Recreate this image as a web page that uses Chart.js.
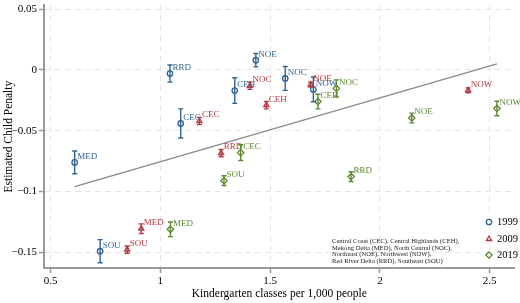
<!DOCTYPE html>
<html><head><meta charset="utf-8">
<script src="https://cdn.jsdelivr.net/npm/chart.js@4/dist/chart.umd.min.js"></script>
<style>html,body{margin:0;padding:0;background:#fff}#wrap{width:520px;height:303px}</style>
</head><body><div id="wrap"><canvas id="c" width="520" height="303"></canvas></div>
<script>
// ---- data ----
const seriesNames = ['1999', '2009', '2019'];
const regions1999 = ['MED', 'SOU', 'RRD', 'CEC', 'CEH', 'NOE', 'NOC', 'NOW'];
const x1999 = [0.61, 0.726, 1.044, 1.093, 1.339, 1.435, 1.569, 1.697];
const y1999 = [-0.076, -0.149, -0.003, -0.044, -0.017, 0.008, -0.007, -0.016];
const ci1999 = [0.0093, 0.0095, 0.007, 0.012, 0.0105, 0.0055, 0.0098, 0.0102];

const regions2009 = ['MED', 'SOU', 'CEC', 'RRD', 'NOC', 'CEH', 'NOE', 'NOW'];
const x2009 = [0.913, 0.849, 1.178, 1.277, 1.408, 1.483, 1.685, 2.402];
const y2009 = [-0.1305, -0.1477, -0.042, -0.0684, -0.013, -0.029, -0.012, -0.0168];
const ci2009 = [0.004, 0.003, 0.003, 0.003, 0.003, 0.003, 0.002, 0.002];

const regions2019 = ['MED', 'SOU', 'CEC', 'CEH', 'NOC', 'RRD', 'NOE', 'NOW'];
const x2019 = [1.046, 1.29, 1.366, 1.718, 1.802, 1.869, 2.145, 2.533];
const y2019 = [-0.131, -0.091, -0.068, -0.026, -0.0152, -0.0877, -0.0395, -0.0317];
const ci2019 = [0.006, 0.004, 0.0065, 0.006, 0.007, 0.004, 0.004, 0.006];

const fitX = [0.61, 2.533];
const fitY = [-0.096, 0.005];

const xTicks = [0.5, 1, 1.5, 2, 2.5];
const yTicks = [-0.15, -0.1, -0.05, 0, 0.05];

const noteLines = [
  'Central Coast (CEC), Central Highlands (CEH),',
  'Mekong Delta (MED), North Central (NOC),',
  'Northeast (NOE), Northwest (NOW),',
  'Red River Delta (RRD), Southeast (SOU)'
];
const xTitle = 'Kindergarten classes per 1,000 people';
const yTitle = 'Estimated Child Penalty';

// ---- styles ----
const colors = ['#2f6596', '#b23a42', '#5b8a30'];
const shapes = ['circle', 'triangle', 'rectRot'];
const radii = [2.7, 3.0, 3.2];
const SERIF = '"Liberation Serif", "Times New Roman", serif';

const seriesData = [
  {labels: regions1999, x: x1999, y: y1999, ci: ci1999},
  {labels: regions2009, x: x2009, y: y2009, ci: ci2009},
  {labels: regions2019, x: x2019, y: y2019, ci: ci2019}
];

const fmt = v => {
  const s = String(Math.round(v * 1000) / 1000);
  return s.replace('-', '\u2212');
};

const datasets = seriesData.map((s, i) => ({
  type: 'scatter',
  label: seriesNames[i],
  data: s.x.map((xv, j) => ({x: xv, y: s.y[j]})),
  pointStyle: shapes[i],
  radius: radii[i],
  borderColor: colors[i],
  backgroundColor: 'rgba(0,0,0,0)',
  borderWidth: 1.3
}));
datasets.push({
  type: 'line',
  label: 'fit',
  data: fitX.map((xv, j) => ({x: xv, y: fitY[j]})),
  borderColor: '#8a8a8a',
  borderWidth: 1.3,
  pointRadius: 0,
  fill: false
});

const deco = {
  id: 'deco',
  afterDatasetsDraw(chart) {
    const ctx = chart.ctx, xs = chart.scales.x, ys = chart.scales.y;
    ctx.save();
    seriesData.forEach((s, i) => {
      ctx.strokeStyle = colors[i];
      ctx.fillStyle = colors[i];
      ctx.lineWidth = 1.4;
      s.x.forEach((xv, j) => {
        const px = xs.getPixelForValue(xv);
        const py = ys.getPixelForValue(s.y[j]);
        const t = ys.getPixelForValue(s.y[j] + s.ci[j]);
        const b = ys.getPixelForValue(s.y[j] - s.ci[j]);
        ctx.beginPath();
        ctx.moveTo(px, t); ctx.lineTo(px, b);
        ctx.moveTo(px - 2.5, t); ctx.lineTo(px + 2.5, t);
        ctx.moveTo(px - 2.5, b); ctx.lineTo(px + 2.5, b);
        ctx.stroke();
        ctx.font = '9px ' + SERIF;
        ctx.textAlign = 'left';
        ctx.textBaseline = 'middle';
        ctx.fillText(s.labels[j], px + 2.5, py - 6);
      });
    });
    // legend
    const lx = 489, ly = [222, 239, 255];
    seriesNames.forEach((n, i) => {
      ctx.strokeStyle = colors[i];
      ctx.fillStyle = 'rgba(0,0,0,0)';
      ctx.lineWidth = 1.3;
      Chart.helpers.drawPoint(ctx, {pointStyle: shapes[i], radius: radii[i], borderWidth: 1.3}, lx, ly[i]);
      ctx.fillStyle = '#000';
      ctx.font = '10.5px ' + SERIF;
      ctx.textAlign = 'left';
      ctx.textBaseline = 'middle';
      ctx.fillText(n, 497, ly[i] + 0.5);
    });
    // note
    ctx.fillStyle = '#222';
    ctx.font = '6.6px ' + SERIF;
    ctx.textAlign = 'left';
    ctx.textBaseline = 'middle';
    noteLines.forEach((t, k) => ctx.fillText(t, 332, 241 + k * 6.8));
    ctx.restore();
  }
};

new Chart(document.getElementById('c'), {
  type: 'scatter',
  data: {datasets},
  plugins: [deco],
  options: {
    responsive: false,
    animation: false,
    devicePixelRatio: 1,
    layout: {padding: {top: 0, right: 0, bottom: 0, left: 0}},
    plugins: {legend: {display: false}, tooltip: {enabled: false}},
    scales: {
      x: {
        type: 'linear', min: 0.4703, max: 2.614,
        afterBuildTicks: s => { s.ticks = xTicks.map(v => ({value: v})); },
        afterFit: s => { s.height = 35; s.paddingLeft = 0; s.paddingRight = 0; },
        ticks: {callback: v => fmt(v), color: '#000', font: {family: SERIF, size: 11}, padding: 2, maxRotation: 0},
        grid: {color: '#e6e6e6', lineWidth: 1, tickColor: '#999', tickLength: 5, tickWidth: 1.5},
        border: {color: '#999', width: 2, dash: [6, 4]},
        title: {display: true, text: xTitle, color: '#000', font: {family: SERIF, size: 11.5}, padding: {top: 2, bottom: 2}}
      },
      y: {
        type: 'linear', min: -0.1628, max: 0.0531,
        afterBuildTicks: s => { s.ticks = yTicks.map(v => ({value: v})); },
        afterFit: s => { s.width = 44; s.paddingTop = 0; s.paddingBottom = 0; },
        ticks: {callback: v => fmt(v), color: '#000', font: {family: SERIF, size: 11}, padding: 2},
        grid: {color: '#e6e6e6', lineWidth: 1, tickColor: '#999', tickLength: 5, tickWidth: 1.5},
        border: {color: '#999', width: 2, dash: [6, 4]},
        title: {display: true, text: yTitle, color: '#000', font: {family: SERIF, size: 11.5}, padding: {top: 2, bottom: 2}}
      }
    }
  }
});
</script>
</body></html>
